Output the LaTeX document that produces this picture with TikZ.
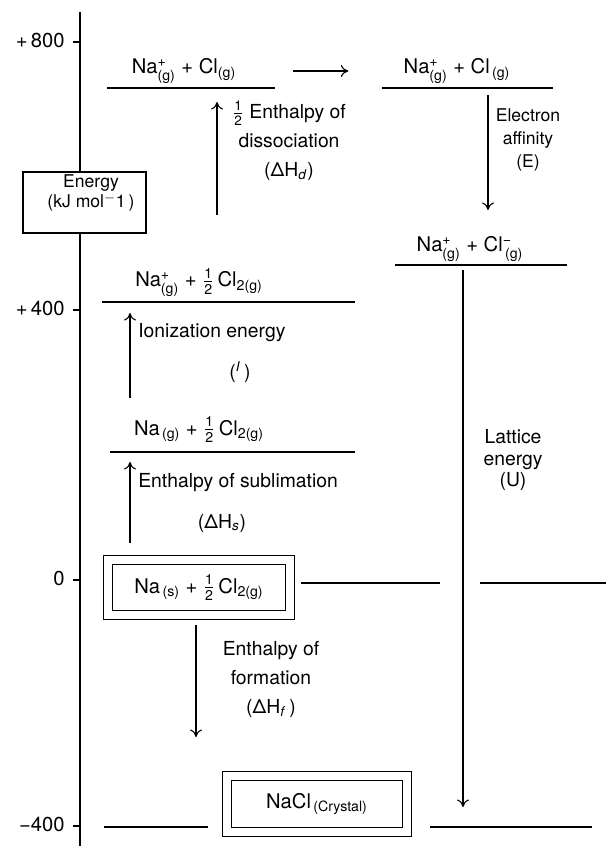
\documentclass[tikz,border=0pt]{standalone}
\usepackage{amsmath}
\usepackage{fontspec}
\setmainfont{TeX Gyre Heros}
\usetikzlibrary{arrows.meta}

\newcommand{\sub}[1]{$_{\text{#1}}$}
\newcommand{\ionof}[3]{#1$^{\text{#2}}_{\text{#3}}$}
\newcommand{\half}{$\tfrac{\text{1}}{\text{2}}$}

\begin{document}
\begin{tikzpicture}[x=0.2mm, y=-0.2mm,
    lvl/.style={line width=0.8pt},
    spc/.style={anchor=base, inner sep=0pt, font=\fontsize{11.5}{13}\selectfont},
    txt/.style={anchor=base, inner sep=0pt, font=\fontsize{11}{13}\selectfont},
    lbl/.style={align=center, inner sep=0pt, font=\fontsize{11}{16.5}\selectfont},
    small/.style={align=center, inner sep=0pt, font=\fontsize{10}{13}\selectfont},
    stepar/.style={line width=0.6pt, -{To[length=1.5mm,width=2.4mm]}},
    dbox/.style={draw, line width=0.6pt, double, double distance=1.6mm, inner sep=0pt}]
    \useasboundingbox (0,0) rectangle (606,846);

    % Energy axis with ticks
    \draw[line width=0.8pt] (80,12) -- (80,846);
    \foreach \y/\t/\n in {42/{+\,800}/a, 310/{+\,400}/b, 580/0/c, 826/{−400}/d} {
        \draw[line width=0.6pt] (73,\y) -- (80,\y);
        \node[anchor=east, inner sep=0pt, font=\fontsize{11.5}{13}\selectfont] (tick\n) at (65,\y-2) {\t};
    }
    \node[draw, fill=white, line width=0.6pt, minimum width=24.6mm, minimum height=12.2mm] (ebox) at (84.5,202.5) {};
    \node[small, font=\fontsize{10}{11.5}\selectfont] (etxt) at (91,193) {Energy\\(kJ mol$^{-}$1\,)};

    % Levels
    \draw[lvl] (107,88) -- (275,88);
    \draw[lvl] (382,88) -- (553,88);
    \draw[lvl] (395,265) -- (567,265);
    \draw[lvl] (102,302) -- (355,302);
    \draw[lvl] (110,452) -- (355,452);
    \draw[lvl] (301,583) -- (440,583) (480,583) -- (606,583);
    \draw[lvl] (104,827) -- (208,827) (430,827) -- (592,827);

    % Species
    \node[spc] (atomsL) at (184,74) {\ionof{Na}{+}{(g)} + Cl\sub{(g)}};
    \node[spc] (atomsR) at (457,74) {\ionof{Na}{+}{(g)} + Cl\sub{\,(g)}};
    \node[spc] (ions) at (470,252) {\ionof{Na}{+}{(g)} + \ionof{Cl}{−}{\,(g)}};
    \node[spc] (ionNa) at (199,287) {\ionof{Na}{+}{(g)} + \half\,Cl\sub{2(g)}};
    \node[spc] (gasNa) at (199,435) {Na\sub{\,(g)} + \half\,Cl\sub{2(g)}};
    \node[dbox, minimum width=36.4mm, minimum height=11mm, font=\fontsize{11.5}{13}\selectfont] (elem) at (199,587.5) {Na\sub{\,(s)} + \half\,Cl\sub{2(g)}};
    \node[dbox, minimum width=36mm, minimum height=11.2mm, font=\fontsize{11.5}{13}\selectfont] (nacl) at (317,804) {NaCl\sub{\,(Crystal)}};

    % Steps
    \coordinate (dissA) at (217,215);  \coordinate (dissB) at (217,102);
    \coordinate (eaA) at (488,95);     \coordinate (eaB) at (488,210);
    \coordinate (latA) at (463,270);   \coordinate (latB) at (463,807);
    \coordinate (ionA) at (130,398);   \coordinate (ionB) at (130,313);
    \coordinate (subA) at (130,543);   \coordinate (subB) at (130,462);
    \coordinate (formA) at (196,625);  \coordinate (formB) at (196,737);
    \draw[stepar, shorten <=11.4mm, shorten >=11mm] (atomsL) -- (atomsR);
    \draw[stepar] (dissA) -- (dissB);
    \draw[stepar] (eaA) -- (eaB);
    \draw[stepar] (latA) -- (latB);
    \draw[stepar] (ionA) -- (ionB);
    \draw[stepar] (subA) -- (subB);
    \draw[stepar] (formA) -- (formB);

    % Labels
    \node[lbl, anchor=north] (dissLbl) at (289,101) {\half\ Enthalpy of\\dissociation\\(ΔH\sub{\textit{d}})};
    \node[small] (eaLbl) at (528,140) {Electron\\affinity\\(E)};
    \node[lbl, font=\fontsize{11}{12.5}\selectfont] (latLbl) at (513,460) {Lattice\\energy\\(U)};
    \node[txt, anchor=west] (ionLbl) at (138,333) {Ionization energy};
    \node[txt, anchor=center] (ionSym) at (240,372) {(\textsuperscript{\textit{I}}\,)};
    \node[txt, anchor=west] (subLbl) at (138,483) {Enthalpy of sublimation};
    \node[txt, anchor=center] (subSym) at (222,523) {(ΔH\sub{\textit{s}})};
    \node[lbl, anchor=north] (formLbl) at (271,641) {Enthalpy of\\formation\\(ΔH\sub{\textit{f}}\,)};
\end{tikzpicture}
\end{document}
